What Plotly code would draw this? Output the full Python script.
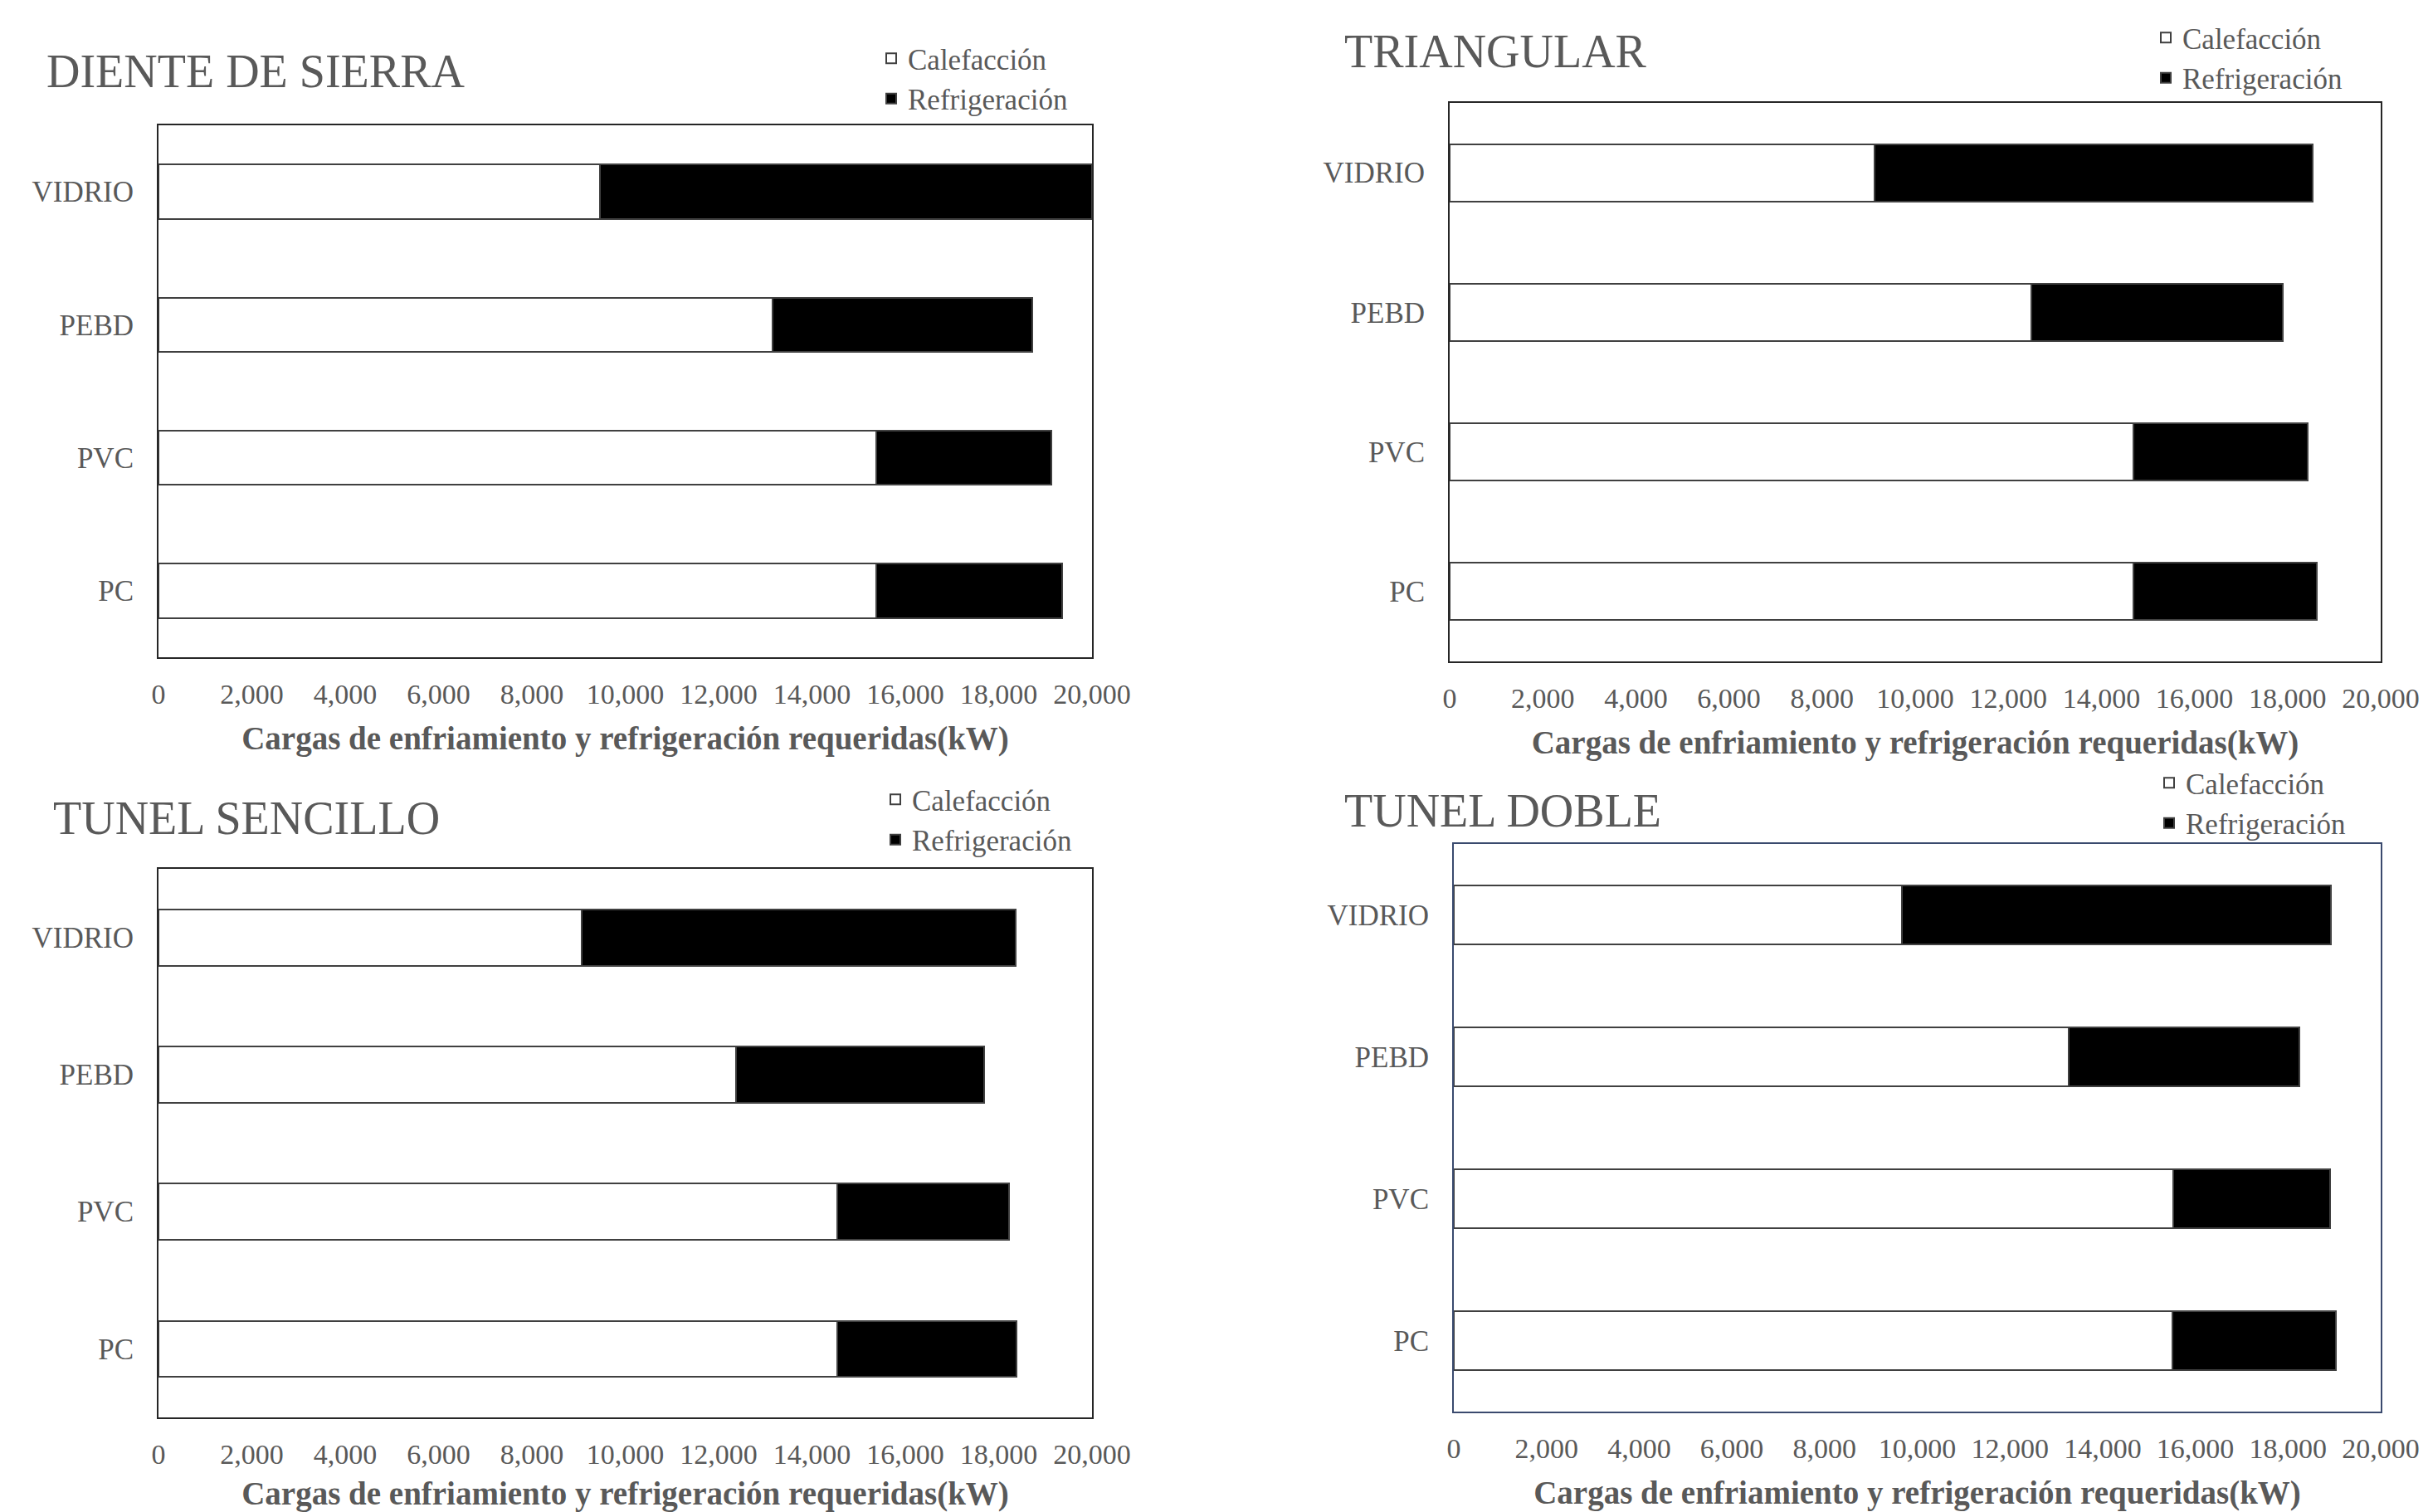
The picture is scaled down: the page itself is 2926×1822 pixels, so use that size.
import plotly.graph_objects as go

W, H = 2926, 1822

categorias = ["VIDRIO", "PEBD", "PVC", "PC"]
titulos = ["DIENTE DE SIERRA", "TRIANGULAR", "TUNEL SENCILLO", "TUNEL DOBLE"]
series = ["Calefacción", "Refrigeración"]
eje_x_titulo = "Cargas de enfriamiento y refrigeración requeridas(kW)"

# values in kW
diente_calef = [9460, 13160, 15380, 15380]
diente_refri = [10540, 5560, 3750, 3980]
triang_calef = [9120, 12500, 14680, 14680]
triang_refri = [9420, 5400, 3760, 3940]
sencillo_calef = [9070, 12380, 14540, 14540]
sencillo_refri = [9290, 5310, 3680, 3850]
doble_calef = [9660, 13270, 15530, 15500]
doble_refri = [9270, 4980, 3370, 3530]

datos = [
    (diente_calef, diente_refri),
    (triang_calef, triang_refri),
    (sencillo_calef, sencillo_refri),
    (doble_calef, doble_refri),
]

# panel frames in pixels: (x0, x1, ytop, ybottom)
paneles = [
    (191, 1316, 151, 792),
    (1747, 2869, 124, 797),
    (191, 1316, 1047, 1708),
    (1752, 2869, 1017, 1701),
]
marcos = ["#262626", "#262626", "#262626", "#3A4A6E"]
titulo_pos = [(54, 86), (1618, 62), (62, 986), (1618, 977)]
# legend: swatch-centre x, top offset (px)
leyenda_pos = [(1080, 41), (2616, 16), (1085, 934), (2620, 914)]

FONT = "Liberation Serif, Times New Roman, serif"
GRIS = "#595959"

fx = lambda p: p / W
fy = lambda p: 1 - p / H

fig = go.Figure()
layout = dict(
    width=W, height=H,
    margin=dict(l=0, r=0, t=0, b=0),
    paper_bgcolor="white", plot_bgcolor="white",
    barmode="stack",
    font=dict(family=FONT, size=34, color=GRIS),
    annotations=[],
)

for i, ((calef, refri), (x0, x1, yt, yb)) in enumerate(zip(datos, paneles)):
    sfx = "" if i == 0 else str(i + 1)
    xa, ya = "x" + sfx, "y" + sfx
    lg = "legend" + sfx
    fig.add_trace(go.Bar(
        y=categorias, x=calef, orientation="h", name=series[0],
        marker=dict(color="white", line=dict(color="#404040", width=2)),
        width=0.41, xaxis=xa, yaxis=ya, legend=lg,
    ))
    fig.add_trace(go.Bar(
        y=categorias, x=refri, orientation="h", name=series[1],
        marker=dict(color="black", line=dict(color="#404040", width=2)),
        width=0.41, xaxis=xa, yaxis=ya, legend=lg,
    ))
    layout["xaxis" + sfx] = dict(
        domain=[fx(x0), fx(x1)], anchor=ya, range=[0, 20000], dtick=2000,
        tickformat=",d", showgrid=False, zeroline=False, automargin=False,
        showline=True, mirror=True, linecolor=marcos[i], linewidth=2,
        ticks="", ticklabelstandoff=13,
        tickfont=dict(family=FONT, size=34, color=GRIS),
        title=dict(text="<b>" + eje_x_titulo + "</b>", standoff=22,
                   font=dict(family=FONT, size=39, color=GRIS)),
    )
    layout["yaxis" + sfx] = dict(
        domain=[fy(yb), fy(yt)], anchor=xa, type="category",
        categoryorder="array", categoryarray=categorias, autorange="reversed",
        showgrid=False, zeroline=False, automargin=False,
        showline=True, mirror=True, linecolor=marcos[i], linewidth=2,
        ticks="", ticklabelstandoff=21,
        tickfont=dict(family=FONT, size=35, color=GRIS),
    )
    lx, ltop = leyenda_pos[i]
    layout[lg] = dict(
        x=fx(lx - 26), y=fy(ltop), xanchor="left", yanchor="top",
        traceorder="normal", bgcolor="rgba(0,0,0,0)",
        font=dict(family=FONT, size=35, color=GRIS),
        itemclick=False, tracegroupgap=0,
    )
    tx, ty = titulo_pos[i]
    layout["annotations"].append(dict(
        text=titulos[i], xref="paper", yref="paper", x=fx(tx), y=fy(ty),
        xanchor="left", yanchor="middle", showarrow=False,
        font=dict(family=FONT, size=56, color=GRIS),
    ))

fig.update_layout(**layout)
fig.write_html(
    "out.html",
    config={"displayModeBar": False},
    post_script="document.body.style.margin='0px';document.body.style.overflow='hidden';",
)
